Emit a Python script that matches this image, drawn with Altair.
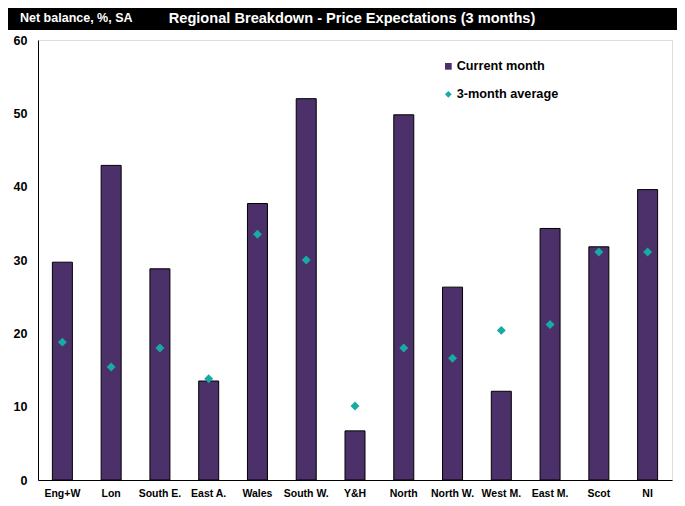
import altair as alt
import pandas as pd

regions = ["Eng+W", "Lon", "South E.", "East A.", "Wales", "South W.", "Y&H",
           "North", "North W.", "West M.", "East M.", "Scot", "NI"]
current_month = [29.7, 42.9, 28.8, 13.5, 37.7, 52.0, 6.7, 49.8, 26.3, 12.1, 34.3, 31.8, 39.6]
three_month_avg = [18.8, 15.4, 18.0, 13.8, 33.5, 30.0, 10.1, 18.0, 16.6, 20.4, 21.2, 31.1, 31.1]
series_names = ["Current month", "3-month average"]
y_ticks = [0, 10, 20, 30, 40, 50, 60]

FONT = "Liberation Sans, Arial, sans-serif"
PURPLE = "#4B3069"
TEAL = "#17ABA2"

rows = []
for r, c, a in zip(regions, current_month, three_month_avg):
    rows.append({"region": r, "series": series_names[0], "value": c})
    rows.append({"region": r, "series": series_names[1], "value": a})
df = pd.DataFrame(rows)

W, H = 634, 440

x_enc = alt.X("region:N", sort=regions, title=None,
              scale=alt.Scale(paddingInner=0.59, paddingOuter=0.295),
              axis=alt.Axis(labelAngle=0, ticks=False, labelPadding=8,
                            labelFont=FONT, labelFontSize=10.5, labelFontWeight="bold",
                            labelColor="black", domainColor="black", domainWidth=1))
y_enc = alt.Y("value:Q", title=None,
              scale=alt.Scale(domain=[0, 60], nice=False),
              axis=alt.Axis(values=y_ticks, ticks=False, grid=False, labelPadding=11,
                            labelFont=FONT, labelFontSize=12.5, labelFontWeight="bold",
                            labelColor="black", domainColor="black", domainWidth=1))
color_enc = alt.Color("series:N",
                      scale=alt.Scale(domain=series_names, range=[PURPLE, TEAL]),
                      legend=alt.Legend(title=None, orient="none", legendX=404, legendY=20,
                                        labelFont=FONT, labelFontSize=12.7, labelFontWeight="bold",
                                        labelColor="black", symbolSize=45, rowPadding=14,
                                        labelOffset=2, symbolStrokeWidth=0))
shape_enc = alt.Shape("series:N",
                      scale=alt.Scale(domain=series_names, range=["square", "diamond"]),
                      legend=alt.Legend(title=None, orient="none", legendX=404, legendY=20))

base = alt.Chart(df)

bars = base.transform_filter(alt.datum.series == series_names[0]).mark_bar(
    stroke="black", strokeWidth=1
).encode(x=x_enc, y=y_enc, color=color_enc, shape=shape_enc)

points = base.transform_filter(alt.datum.series == series_names[1]).mark_point(
    filled=True, opacity=1, size=80
).encode(x=x_enc, y=y_enc, color=color_enc, shape=shape_enc)

one = pd.DataFrame({"k": [0]})
header = alt.Chart(one).mark_rect(color="black").encode(
    x=alt.value(-40), x2=alt.value(642), y=alt.value(-34), y2=alt.value(-10)
)
left_txt = alt.Chart(one).mark_text(
    text="Net balance, %, SA", color="white", font=FONT, fontSize=12.5,
    fontWeight="bold", align="left", baseline="middle"
).encode(x=alt.value(-18), y=alt.value(-22))
title_txt = alt.Chart(one).mark_text(
    text="Regional Breakdown - Price Expectations (3 months)", color="white", font=FONT,
    fontSize=14.6, fontWeight="bold", align="center", baseline="middle"
).encode(x=alt.value(314), y=alt.value(-21))

chart = alt.layer(header, left_txt, title_txt, bars, points).properties(
    width=W, height=H,
    autosize=alt.AutoSizeParams(type="none"),
    padding={"left": 30, "top": 32, "right": 5, "bottom": 24},
).configure_view(stroke=None).configure(background="white")

chart.save("out.html", embed_options={"renderer": "svg", "actions": False})
